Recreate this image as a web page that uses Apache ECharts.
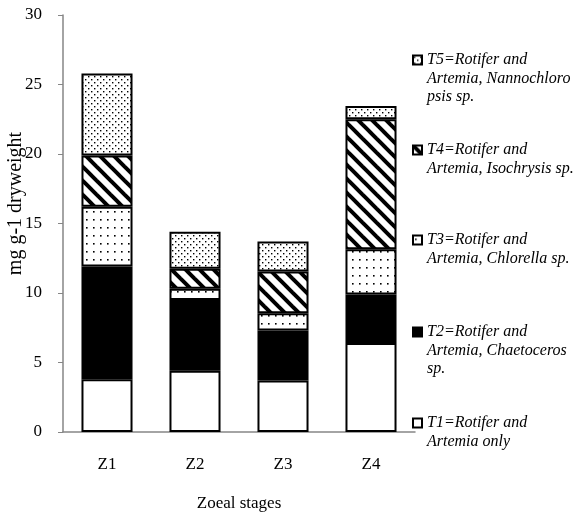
<!DOCTYPE html>
<html>
<head>
<meta charset="utf-8">
<script src="https://cdn.jsdelivr.net/npm/echarts@6/dist/echarts.min.js"></script>
<style>
html,body{margin:0;padding:0;background:#fff;}
#chart{width:573px;height:513px;}
</style>
</head>
<body>
<div id="chart"></div>
<script>
// ---- data ----
const categories = ['Z1', 'Z2', 'Z3', 'Z4'];
const seriesNames = ['T1', 'T2', 'T3', 'T4', 'T5'];
const legendLabels = [
  'T1=Rotifer and\nArtemia only',
  'T2=Rotifer and\nArtemia, Chaetoceros\nsp.',
  'T3=Rotifer and\nArtemia, Chlorella sp.',
  'T4=Rotifer and\nArtemia, Isochrysis sp.',
  'T5=Rotifer and\nArtemia, Nannochloro\npsis sp.'
];
const t1 = [3.8, 4.4, 3.7, 6.4];
const t2 = [8.1, 5.1, 3.6, 3.5];
const t3 = [4.3, 0.8, 1.25, 3.25];
const t4 = [3.7, 1.45, 3.0, 9.35];
const t5 = [5.9, 2.65, 2.15, 0.95];
const values = [t1, t2, t3, t4, t5];
const yMin = 0, yMax = 30, yStep = 5;
const xTitle = 'Zoeal stages';
const yTitle = 'mg g-1 dryweight';

// ---- patterns ----
function dotPattern(w, h, dots, size) {
  const c = document.createElement('canvas');
  c.width = w; c.height = h;
  const g = c.getContext('2d');
  g.fillStyle = '#fff'; g.fillRect(0, 0, w, h);
  g.fillStyle = '#000';
  dots.forEach(d => g.fillRect(d[0], d[1], size, size));
  return c;
}
function stripePattern(p, lw) {
  const c = document.createElement('canvas');
  c.width = p; c.height = p;
  const g = c.getContext('2d');
  g.fillStyle = '#fff'; g.fillRect(0, 0, p, p);
  g.strokeStyle = '#000'; g.lineWidth = lw;
  [-p, 0, p].forEach(off => {
    g.beginPath();
    g.moveTo(-2, -2 + off);
    g.lineTo(p + 2, p + 2 + off);
    g.stroke();
  });
  return c;
}
const fills = [
  '#ffffff',
  '#000000',
  { image: dotPattern(7, 8, [[2, 3]], 1.6), repeat: 'repeat' },
  { image: stripePattern(14, 4), repeat: 'repeat' },
  { image: dotPattern(6, 6, [[1, 1], [4, 4]], 1.4), repeat: 'repeat' }
];

const LH = 18.5;
const legendFont = {
  fontFamily: 'Liberation Serif', fontStyle: 'italic', fontSize: 16,
  color: '#000', lineHeight: LH
};
const iconCenters = [423, 332, 240, 150, 60];
const legends = seriesNames.map((n, i) => {
  const lines = legendLabels[i].split('\n').length;
  return {
    show: true,
    data: [n],
    orient: 'vertical',
    left: 412,
    top: iconCenters[i] - (2 * lines - 1) * LH / 2,
    padding: 0,
    itemWidth: 9,
    itemHeight: 9,
    itemGap: 0,
    selectedMode: false,
    icon: 'rect',
    formatter: () => '\n'.repeat(lines - 1) + legendLabels[i],
    textStyle: legendFont
  };
});

const chart = echarts.init(document.getElementById('chart'), null, { renderer: 'canvas' });
chart.setOption({
  backgroundColor: '#fff',
  animation: false,
  legend: legends,
  grid: { left: 63, right: 158, top: 15, bottom: 81, containLabel: false, outerBoundsMode: 'none' },
  xAxis: {
    type: 'category',
    data: categories,
    name: xTitle,
    nameLocation: 'middle',
    nameGap: 63,
    nameMoveOverlap: false,
    nameTextStyle: { fontFamily: 'Liberation Serif', fontSize: 17, color: '#000' },
    axisLine: { lineStyle: { color: '#868686', width: 1.5 } },
    axisTick: { show: false },
    axisLabel: { margin: 24, fontFamily: 'Liberation Serif', fontSize: 17, color: '#000' }
  },
  yAxis: {
    type: 'value',
    min: yMin, max: yMax, interval: yStep,
    name: yTitle,
    nameLocation: 'middle',
    nameGap: 37,
    nameMoveOverlap: false,
    nameTextStyle: { fontFamily: 'Liberation Serif', fontSize: 20, color: '#000', padding: [0, 0, 0, 40] },
    axisLine: { show: true, lineStyle: { color: '#868686', width: 1.5 } },
    axisTick: { show: true, inside: false, length: 5, lineStyle: { color: '#868686' } },
    splitLine: { show: false },
    axisLabel: { margin: 21, fontFamily: 'Liberation Serif', fontSize: 17, color: '#000' }
  },
  series: seriesNames.map((n, i) => ({
    name: n,
    type: 'bar',
    stack: 'total',
    barWidth: '58%',
    data: values[i],
    itemStyle: { color: fills[i], borderColor: '#000', borderWidth: 2 },
    emphasis: { disabled: true }
  }))
});
</script>
</body>
</html>
